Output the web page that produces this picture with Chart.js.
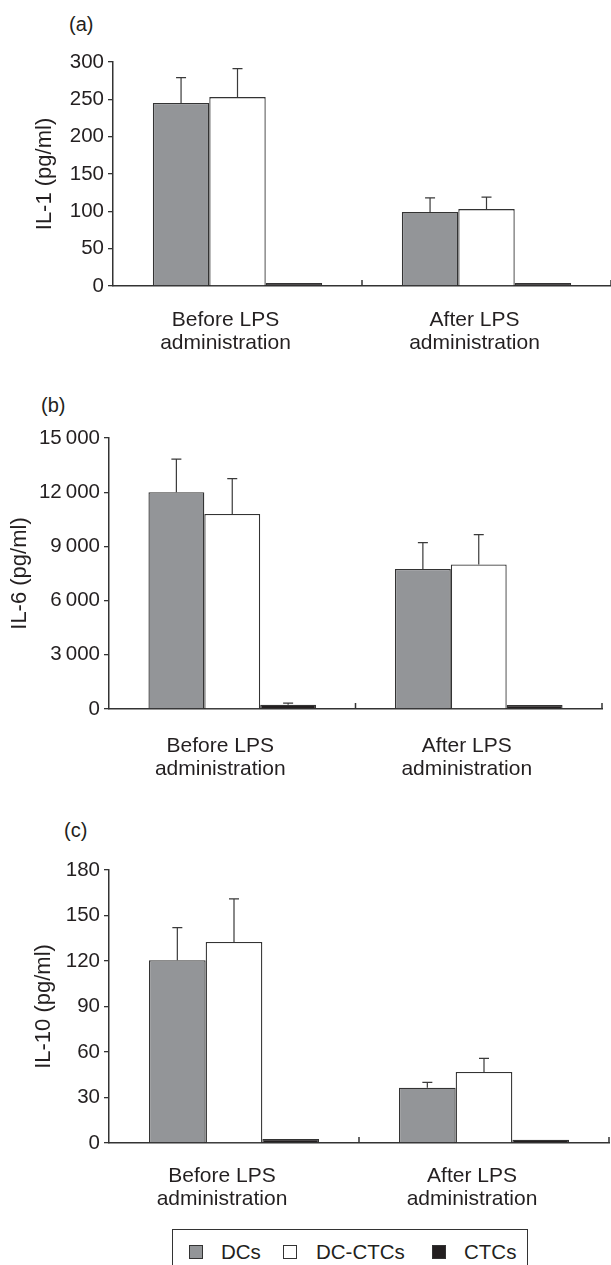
<!DOCTYPE html>
<html>
<head>
<meta charset="utf-8">
<script src="https://cdn.jsdelivr.net/npm/chart.js@4.4.0/dist/chart.umd.min.js"></script>
<style>
body { margin:0; background:#fff; font-family:"Liberation Sans", Arial, sans-serif; color:#231f20; }
#wrap { position:relative; width:611px; height:1265px; overflow:hidden; }
canvas { position:absolute; left:0; }
.lab { position:absolute; font-size:20px; line-height:20px; }
#legend { position:absolute; left:172px; top:1229px; width:354px; height:60px; border:1.5px solid #333; font-size:20.5px; }
#legend span { position:absolute; top:14px; }
#legend .sq { width:12px; height:12px; border:1.5px solid #333; top:15px; }
</style>
</head>
<body>
<div id="wrap">
  <div class="lab" style="left:69px;top:14px">(a)</div>
  <div class="lab" style="left:41px;top:395px">(b)</div>
  <div class="lab" style="left:64px;top:820px">(c)</div>
  <canvas id="c1" width="611" height="370" style="top:0"></canvas>
  <canvas id="c2" width="611" height="415" style="top:375px"></canvas>
  <canvas id="c3" width="611" height="430" style="top:795px"></canvas>
  <div id="legend">
    <span class="sq" style="left:16px;background:#939598"></span><span style="left:48px;top:10px">DCs</span>
    <span class="sq" style="left:110px;background:#fff"></span><span style="left:143px;top:10px">DC-CTCs</span>
    <span class="sq" style="left:259px;background:#231f20"></span><span style="left:291px;top:10px">CTCs</span>
  </div>
</div>
<script>
var groups = [["Before LPS", "administration"], ["After LPS", "administration"]];
var series = ["DCs", "DC-CTCs", "CTCs"];
var colors = ["#939598", "#ffffff", "#231f20"];

// IL-1
var il1_dcs = [245, 99];
var il1_dcctcs = [253, 103];
var il1_ctcs = [4, 4];
var il1_dcs_err = [34, 19];
var il1_dcctcs_err = [38, 16];
var il1_ctcs_err = [0, 0];

// IL-6
var il6_dcs = [12000, 7750];
var il6_dcctcs = [10800, 8000];
var il6_ctcs = [240, 220];
var il6_dcs_err = [1830, 1460];
var il6_dcctcs_err = [1950, 1650];
var il6_ctcs_err = [90, 0];

// IL-10
var il10_dcs = [120.5, 36.5];
var il10_dcctcs = [132.5, 46.8];
var il10_ctcs = [2.6, 2.2];
var il10_dcs_err = [21.5, 3.5];
var il10_dcctcs_err = [28.5, 9];
var il10_ctcs_err = [0, 0];

var ticks_il1 = [0, 50, 100, 150, 200, 250, 300];
var ticks_il6 = ["0", "3\u2009000", "6\u2009000", "9\u2009000", "12\u2009000", "15\u2009000"];
var ticks_il10 = [0, 30, 60, 90, 120, 150, 180];

var ink = "#231f20";

var errorBars = {
  id: 'errorBars',
  afterDatasetsDraw: function(chart) {
    var ctx = chart.ctx;
    var y = chart.scales.y;
    ctx.save();
    ctx.strokeStyle = "#3a3a3a";
    ctx.lineWidth = 1.2;
    chart.data.datasets.forEach(function(ds, i) {
      var meta = chart.getDatasetMeta(i);
      meta.data.forEach(function(bar, j) {
        var e = ds.errors[j];
        if (!e) return;
        var top = y.getPixelForValue(ds.data[j] + e);
        ctx.beginPath();
        ctx.moveTo(bar.x, bar.y);
        ctx.lineTo(bar.x, top);
        ctx.moveTo(bar.x - 5, top);
        ctx.lineTo(bar.x + 5, top);
        ctx.stroke();
      });
    });
    ctx.restore();
  },
  afterDraw: function(chart) {
    // small inward ticks on the x axis between groups
    var ctx = chart.ctx;
    var x = chart.scales.x;
    var b = chart.chartArea.bottom;
    ctx.save();
    ctx.strokeStyle = "#333";
    ctx.lineWidth = 1.5;
    for (var i = 0; i < groups.length; i++) {
      var px = x.getPixelForValue(i + 0.5);
      ctx.beginPath();
      ctx.moveTo(px, b);
      ctx.lineTo(px, b - 6);
      ctx.stroke();
    }
    ctx.restore();
  }
};

function makeChart(id, vals, errs, yTitle, yMax, step, tickLabels, pad, yW, xH, titlePad, xPad) {
  var ds = [];
  for (var i = 0; i < series.length; i++) {
    ds.push({
      label: series[i],
      data: vals[i],
      errors: errs[i],
      backgroundColor: colors[i],
      borderColor: "#333",
      borderWidth: 1.3,
      categoryPercentage: 0.68,
      barPercentage: 1
    });
  }
  return new Chart(document.getElementById(id), {
    type: 'bar',
    data: { labels: groups, datasets: ds },
    options: {
      responsive: false,
      animation: false,
      layout: { padding: pad },
      plugins: { legend: { display: false }, tooltip: { enabled: false } },
      scales: {
        x: {
          grid: { display: false },
          border: { display: true, color: "#333", width: 1.5 },
          ticks: { color: ink, padding: xPad, labelOffset: -12, maxRotation: 0, autoSkip: false,
                   font: { family: "Liberation Sans", size: 21, lineHeight: 1.1 } },
          afterFit: function(s) { s.height = xH; }
        },
        y: {
          min: 0, max: yMax,
          grid: { display: true, drawOnChartArea: false, drawTicks: true, tickLength: 5, color: "#333", lineWidth: 1.3 },
          border: { display: true, color: "#333", width: 1.5 },
          ticks: { stepSize: step, padding: 4, color: ink,
                   font: { family: "Liberation Sans", size: 20.5 },
                   callback: function(v, idx) { return tickLabels[idx]; } },
          title: { display: true, text: yTitle, color: ink, padding: { top: titlePad },
                   font: { family: "Liberation Sans", size: 22 } },
          afterFit: function(s) { s.width = yW; }
        }
      }
    },
    plugins: [errorBars]
  });
}

makeChart('c1', [il1_dcs, il1_dcctcs, il1_ctcs], [il1_dcs_err, il1_dcctcs_err, il1_ctcs_err],
  "IL-1 (pg/ml)", 300, 50, ticks_il1, { top: 62, left: 0, right: 0, bottom: 0 }, 113, 84, 32, 15);
makeChart('c2', [il6_dcs, il6_dcctcs, il6_ctcs], [il6_dcs_err, il6_dcctcs_err, il6_ctcs_err],
  "IL-6 (pg/ml)", 15000, 3000, ticks_il6, { top: 63, left: 0, right: 9, bottom: 0 }, 109, 81, 7, 18);
makeChart('c3', [il10_dcs, il10_dcctcs, il10_ctcs], [il10_dcs_err, il10_dcctcs_err, il10_ctcs_err],
  "IL-10 (pg/ml)", 180, 30, ticks_il10, { top: 75, left: 0, right: 2, bottom: 0 }, 109, 82, 31, 14);
</script>
</body>
</html>
